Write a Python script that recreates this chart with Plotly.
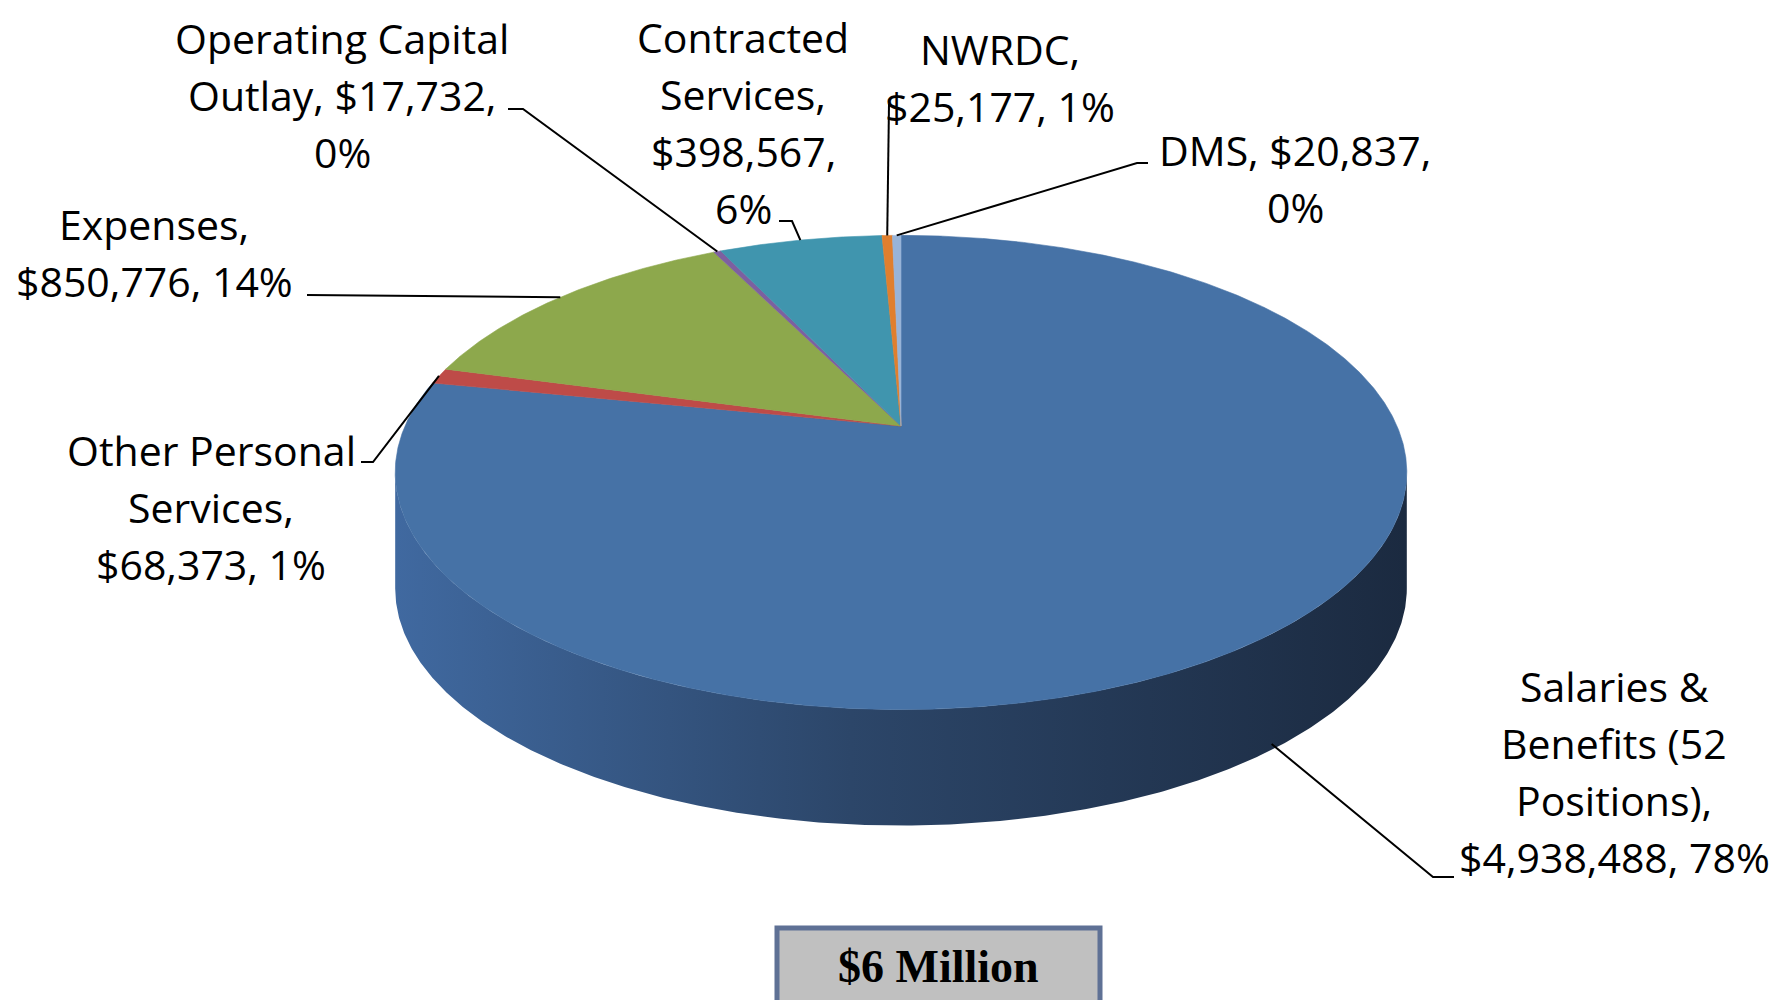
import textwrap
import numpy as np
import plotly.graph_objects as go

# ---------------- data ----------------
categories = ["Salaries & Benefits (52 Positions)", "Other Personal Services", "Expenses",
              "Operating Capital Outlay", "Contracted Services", "NWRDC", "DMS"]
values = [4938488, 68373, 850776, 17732, 398567, 25177, 20837]
pct_labels = [78, 1, 14, 0, 6, 1, 0]
colors = ["#4672A6", "#BE4B48", "#8DA84C", "#7D60A0", "#4095AE", "#E07F2E", "#98B4D8"]
wrap_widths = [15, 14, 13, 17, 10, 11, 13]
title_text = "$6 Million"

# ---------------- geometry (pixel space) ----------------
W, Hpx = 1781, 1000
OFF = 8                    # page body margin compensation
CX, CY = 901, 426          # apex of the pie (projected centre)
A, B = 496, 228            # projected radii
K = 0.196                  # perspective factor
THICK = 116                # side thickness

def proj(theta_deg, dz=0.0):
    t = np.radians(theta_deg)
    u, v = np.sin(t), np.cos(t)
    d = 1 + K * v
    return CX + A * u / d, CY - B * v / d + dz

fig = go.Figure()

# side wall (front visible part)
th1 = np.degrees(np.arccos(-K))
th2 = 360 - th1
ts = np.linspace(th1, th2, 400)
xt, yt = proj(ts)
xb, yb = proj(ts[::-1], THICK)
fig.add_trace(go.Scatter(
    x=np.concatenate([xt, xb, xt[:1]]), y=np.concatenate([yt, yb, yt[:1]]),
    mode="lines", fill="toself", line=dict(width=0),
    fillgradient=dict(type="horizontal",
                      colorscale=[[0, "#4069A0"], [0.45, "#2C4669"], [1, "#1B2A40"]]),
    hoverinfo="skip", showlegend=False))

# top face slices
total = sum(values)
angles = np.cumsum([0] + [v / total * 360 for v in values])
mids = []
for i, c in enumerate(colors):
    a0, a1 = angles[i], angles[i + 1]
    n = max(3, int((a1 - a0) * 4))
    tt = np.linspace(a0, a1, n)
    xs, ys = proj(tt)
    fig.add_trace(go.Scatter(
        x=np.concatenate([[CX], xs, [CX]]), y=np.concatenate([[CY], ys, [CY]]),
        mode="lines", fill="toself", fillcolor=c, line=dict(width=0.6, color=c),
        hoverinfo="skip", showlegend=False, name=categories[i]))
    mids.append((a0 + a1) / 2)

# ---------------- labels ----------------
label_pos = [(1614, 686), (211, 450), (154, 224), (342, 38), (743, 37), (1000, 49), (1295, 150)]
LINE_SP = 57
annotations = []
for i, cat in enumerate(categories):
    full = f"{cat}, ${values[i]:,}, {pct_labels[i]}%"
    lines = textwrap.wrap(full, wrap_widths[i])
    x0, y0 = label_pos[i]
    for j, ln in enumerate(lines):
        annotations.append(dict(x=x0, y=y0 + j * LINE_SP, xref="x", yref="y", text=ln,
                                showarrow=False, xanchor="center", yanchor="middle",
                                font=dict(family="Open Sans", size=41, color="black")))

# leader lines: label-side elbow points, ending at slice midpoints
elbows = [[(1454, 877), (1433, 877)], [(361, 462), (373, 462)], [(307, 295)],
          [(508, 109), (523, 109)], [(779, 221), (792, 221)], [(889, 104)],
          [(1148, 163), (1137, 163)]]
for i, el in enumerate(elbows):
    mx, my = proj(mids[i], THICK * 0.95 if i == 0 else 0)
    px = [p[0] for p in el] + [float(mx)]
    py = [p[1] for p in el] + [float(my)]
    fig.add_trace(go.Scatter(x=px, y=py, mode="lines", line=dict(color="black", width=2),
                             hoverinfo="skip", showlegend=False))

# title box
shapes = [dict(type="rect", xref="x", yref="y", x0=777, x1=1100, y0=928, y1=1012,
               fillcolor="#C0C0C0", line=dict(color="#5F7195", width=5), layer="above")]
annotations.append(dict(x=938, y=966, xref="x", yref="y", text=f"<b>{title_text}</b>",
                        showarrow=False, xanchor="center", yanchor="middle",
                        font=dict(family="Liberation Serif", size=46, color="black")))

fig.update_layout(
    width=W, height=Hpx, margin=dict(l=0, r=0, t=0, b=0),
    paper_bgcolor="white", plot_bgcolor="white",
    xaxis=dict(range=[OFF, W + OFF], visible=False, fixedrange=True),
    yaxis=dict(range=[Hpx + OFF, OFF], visible=False, fixedrange=True),
    annotations=annotations, shapes=shapes, showlegend=False)

fig.write_html("out.html")
